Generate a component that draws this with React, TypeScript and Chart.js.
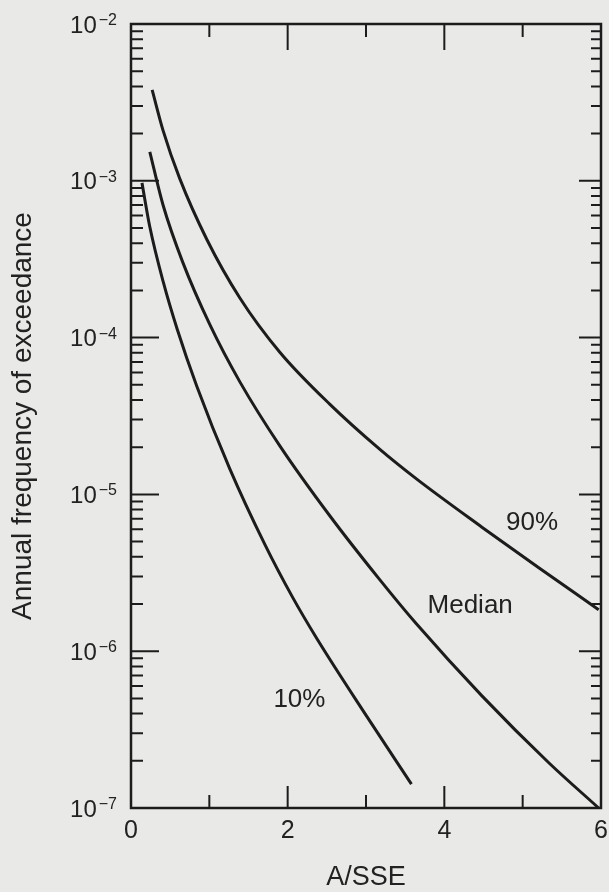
import React, { useEffect, useRef } from 'react';
import { Chart, registerables } from 'chart.js';

Chart.register(...registerables);

// ---- Data ----
const p90X = [0.27, 0.41, 0.62, 0.97, 1.39, 1.9, 2.54, 3.17, 3.64, 4.48, 5.21, 5.97];
const p90Y = [3.8e-3, 2.09e-3, 1.04e-3, 4.21e-4, 1.79e-4, 8.07e-5, 3.75e-5, 1.95e-5, 1.26e-5, 6.18e-6, 3.39e-6, 1.84e-6];

const medX = [0.24, 0.41, 0.66, 1.01, 1.39, 1.9, 2.54, 3.17, 3.64, 4.48, 5.34, 5.97];
const medY = [1.53e-3, 6.98e-4, 3.03e-4, 1.2e-4, 5.22e-5, 2.04e-5, 7.28e-6, 2.88e-6, 1.5e-6, 5.19e-7, 1.93e-7, 1.0e-7];

const p10X = [0.14, 0.24, 0.41, 0.59, 0.84, 1.26, 1.71, 2.06, 2.37, 3.01, 3.58];
const p10Y = [9.7e-4, 5.09e-4, 2.28e-4, 1.13e-4, 4.9e-5, 1.46e-5, 4.78e-6, 2.22e-6, 1.21e-6, 3.84e-7, 1.42e-7];

const xLabeledTicks = [0, 2, 4, 6];
const yDecadeExponents = [-2, -3, -4, -5, -6, -7];
const xTitle = 'A/SSE';
const yTitle = 'Annual frequency of exceedance';

const curveLabels = ['90%', 'Median', '10%'];
const curveLabelX = [5.12, 4.33, 2.15];
const curveLabelY = [6.6e-6, 1.95e-6, 4.9e-7];

// ---- Styles ----
const FAMILY = "'Liberation Sans', Arial, Helvetica, sans-serif";
const BG = '#e9e9e7';
const INK = '#1c1c1c';
const TEXT = '#222222';

const toPoints = (xs: number[], ys: number[]) => xs.map((x, i) => ({ x, y: ys[i] }));

const framePlugin = {
  id: 'frameAndTicks',
  beforeDraw(chart: any) {
    const { ctx, width, height } = chart;
    ctx.save();
    ctx.fillStyle = BG;
    ctx.fillRect(0, 0, width, height);
    ctx.restore();
  },
  afterDatasetsDraw(chart: any) {
    const { ctx, chartArea, scales } = chart;
    const { left, right, top, bottom } = chartArea;
    const x = scales.x;
    const y = scales.y;
    ctx.save();
    ctx.strokeStyle = INK;
    ctx.lineWidth = 2.5;
    ctx.strokeRect(left, top, right - left, bottom - top);

    // y minor/major ticks (log)
    ctx.lineWidth = 2;
    ctx.beginPath();
    const minE = Math.round(Math.log10(y.min));
    const maxE = Math.round(Math.log10(y.max));
    for (let e = minE; e < maxE; e++) {
      for (let m = 1; m <= 9; m++) {
        const v = m * Math.pow(10, e);
        if (e === minE && m === 1) continue;
        const py = y.getPixelForValue(v);
        const major = m === 1;
        ctx.moveTo(left, py);
        ctx.lineTo(left + (major ? 28 : 12), py);
        ctx.moveTo(right, py);
        ctx.lineTo(right - (major ? 22 : 10), py);
      }
    }
    // x ticks
    for (const t of x.ticks) {
      const v = t.value;
      if (v <= x.min || v >= x.max) continue;
      const major = v % 2 === 0;
      const px = x.getPixelForValue(v);
      ctx.moveTo(px, bottom);
      ctx.lineTo(px, bottom - (major ? 22 : 13));
      ctx.moveTo(px, top);
      ctx.lineTo(px, top + (major ? 26 : 13));
    }
    ctx.stroke();

    // y tick labels: 10^n
    ctx.fillStyle = TEXT;
    ctx.textAlign = 'left';
    ctx.textBaseline = 'alphabetic';
    for (const e of yDecadeExponents) {
      const py = y.getPixelForValue(Math.pow(10, e));
      const expStr = '\u2212' + Math.abs(e);
      ctx.font = `16px ${FAMILY}`;
      const ew = ctx.measureText(expStr).width;
      ctx.font = `24px ${FAMILY}`;
      const bw = ctx.measureText('10').width;
      const rightX = left - 14;
      const baseX = rightX - ew - 2 - bw;
      ctx.fillText('10', baseX, py + 8.6);
      ctx.font = `16px ${FAMILY}`;
      ctx.fillText(expStr, baseX + bw + 2, py + 1);
    }

    // curve labels
    ctx.font = `26px ${FAMILY}`;
    ctx.textAlign = 'center';
    ctx.textBaseline = 'middle';
    curveLabels.forEach((txt, i) => {
      const px = x.getPixelForValue(curveLabelX[i]);
      const py = y.getPixelForValue(curveLabelY[i]);
      ctx.fillText(txt, px, py);
    });
    ctx.restore();
  },
};

export default function App() {
  const ref = useRef<HTMLCanvasElement | null>(null);
  useEffect(() => {
    if (!ref.current) return;
    const lineStyle = {
      borderColor: INK,
      borderWidth: 3,
      pointRadius: 0,
      fill: false,
      cubicInterpolationMode: 'monotone' as const,
    };
    const chart = new Chart(ref.current, {
      type: 'line',
      data: {
        datasets: [
          { label: '90%', data: toPoints(p90X, p90Y), ...lineStyle },
          { label: 'Median', data: toPoints(medX, medY), ...lineStyle },
          { label: '10%', data: toPoints(p10X, p10Y), ...lineStyle },
        ],
      },
      options: {
        responsive: false,
        animation: false,
        layout: { padding: { top: 24, right: 8, left: 0, bottom: 0 } },
        plugins: { legend: { display: false }, tooltip: { enabled: false } },
        scales: {
          x: {
            type: 'linear',
            position: 'bottom',
            min: 0,
            max: 6,
            grid: { display: false, drawTicks: false },
            border: { display: false },
            ticks: {
              stepSize: 1,
              autoSkip: false,
              maxRotation: 0,
              padding: 11,
              color: TEXT,
              font: { size: 25, family: FAMILY, lineHeight: 1 },
              callback: (v: any) => (xLabeledTicks.includes(Number(v)) ? String(v) : ''),
            },
            title: {
              display: true,
              text: xTitle,
              color: TEXT,
              font: { size: 27, family: FAMILY, lineHeight: 1 },
              padding: { top: 0, bottom: 1 },
            },
            afterFit: (s: any) => {
              s.height = 84;
              s.paddingLeft = 0;
              s.paddingRight = 0;
            },
          },
          y: {
            type: 'logarithmic',
            position: 'left',
            min: 1e-7,
            max: 1e-2,
            grid: { display: false, drawTicks: false },
            border: { display: false },
            ticks: { display: false },
            title: {
              display: true,
              text: yTitle,
              color: TEXT,
              font: { size: 28, family: FAMILY, lineHeight: 1 },
              padding: { top: 9, bottom: 0 },
            },
            afterFit: (s: any) => {
              s.width = 131;
              s.paddingTop = 0;
              s.paddingBottom = 0;
            },
          },
        },
      },
      plugins: [framePlugin],
    });
    return () => chart.destroy();
  }, []);

  return (
    <div style={{ position: 'fixed', left: 0, top: 0, width: 609, height: 892, background: BG }}>
      <canvas ref={ref} width={609} height={892} style={{ width: 609, height: 892, display: 'block' }} />
    </div>
  );
}
